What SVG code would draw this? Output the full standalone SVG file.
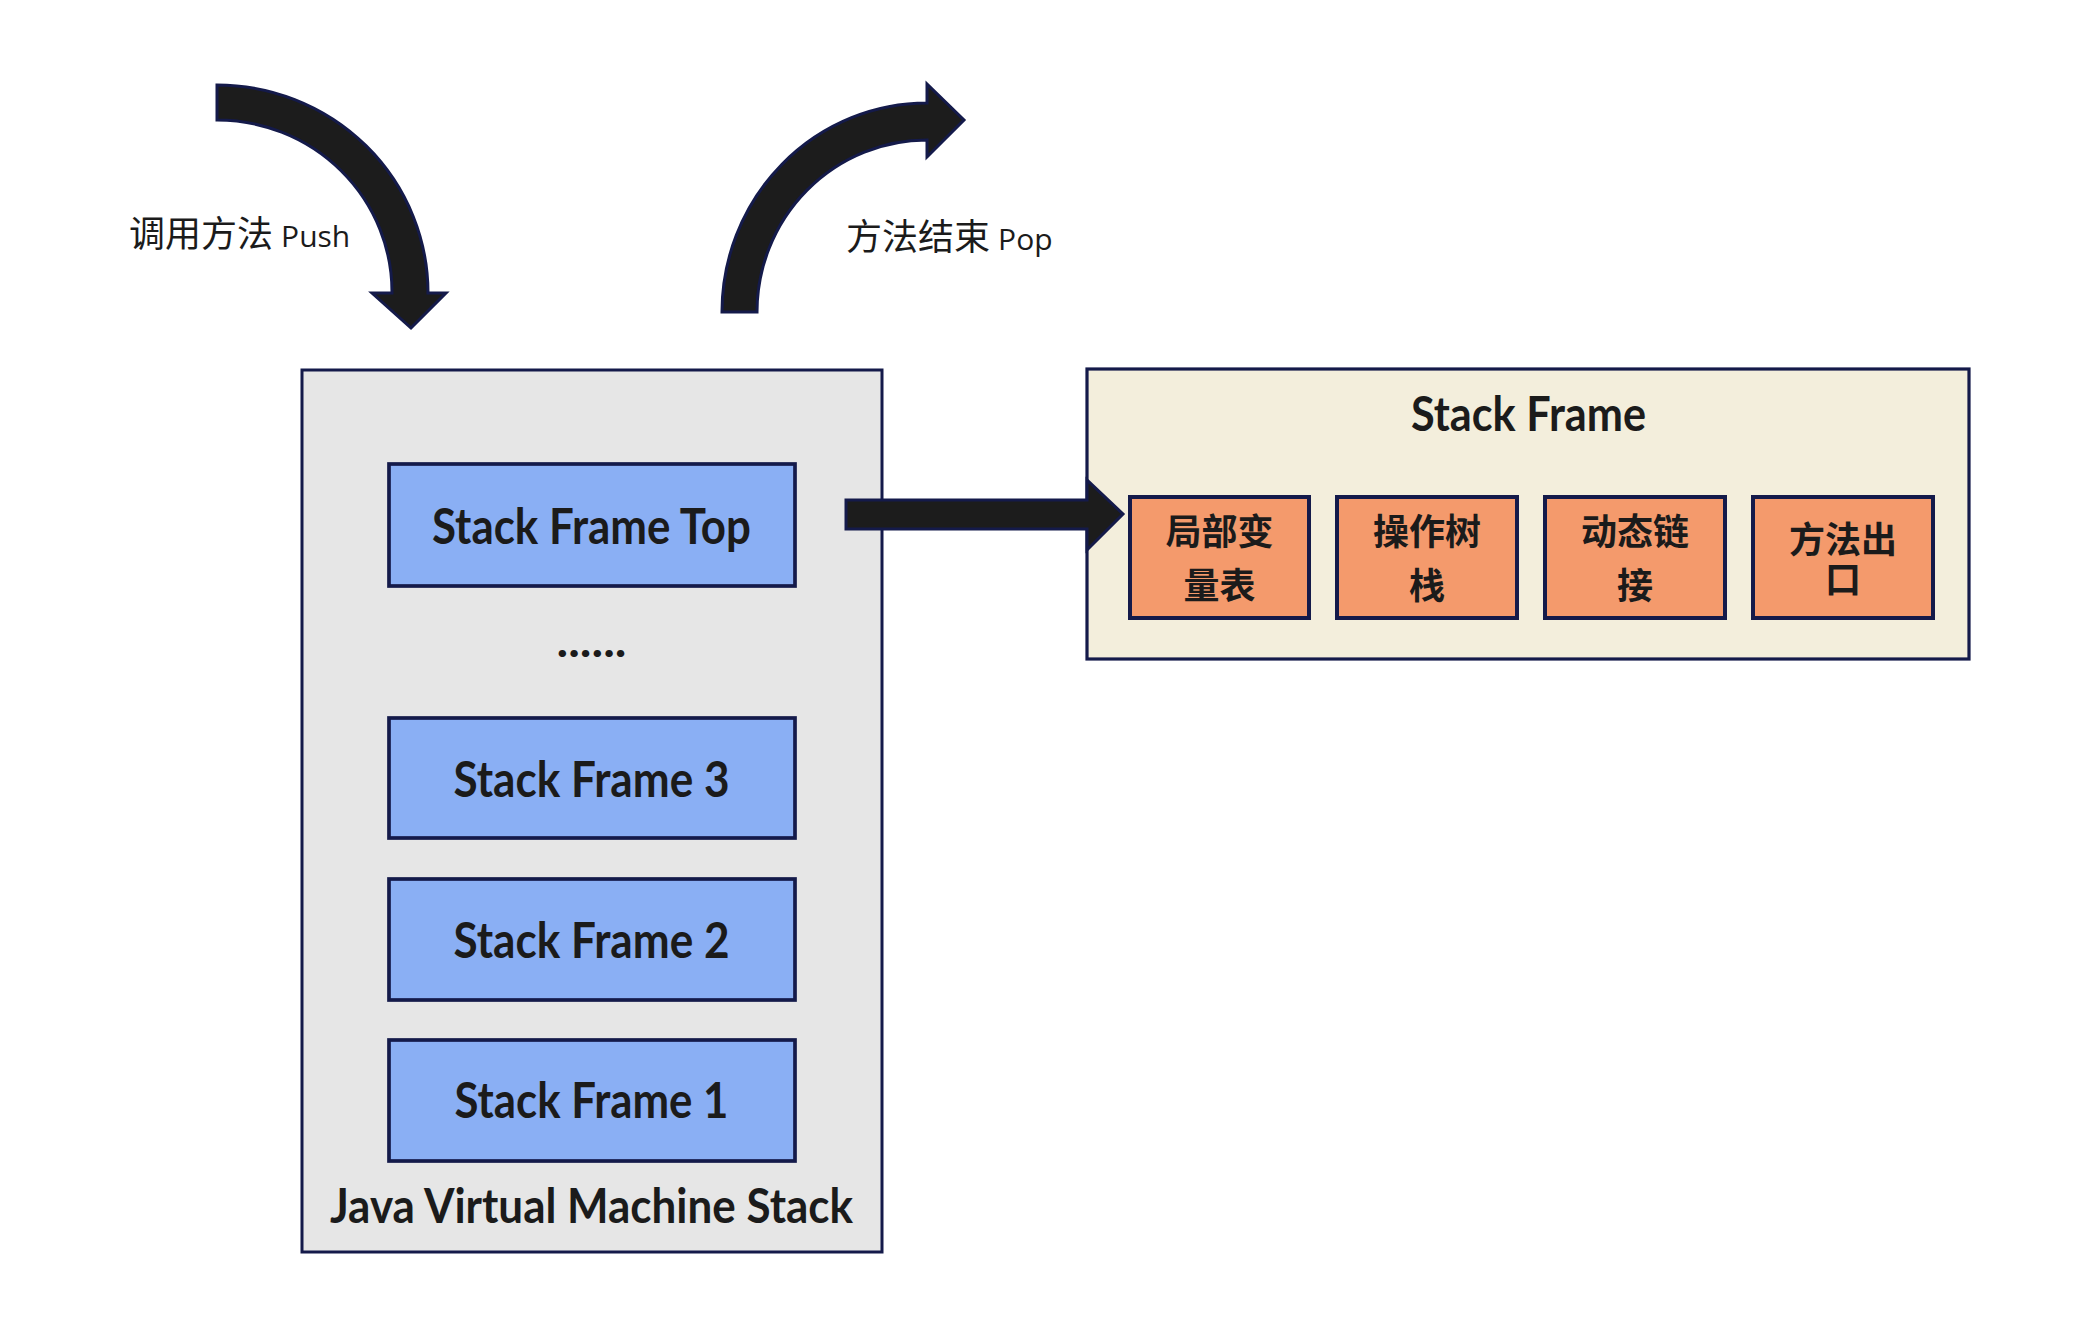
<svg xmlns="http://www.w3.org/2000/svg" width="2100" height="1338" viewBox="0 0 2100 1338">
<style>
.box{stroke:#141a4a;stroke-width:3.7}
.jvm{fill:#e6e6e6;stroke:#141a4a;stroke-width:3}
.frame{fill:#8aaff4}
.cream{fill:#f3eedc;stroke:#141a4a;stroke-width:3.2}
.orange{fill:#f49a6c;stroke:#141a4a;stroke-width:4}
.en{font-family:Lato,"Noto Sans",sans-serif;font-weight:700;fill:#1b1b1b;text-anchor:middle}
.cn{font-family:"Noto Sans CJK SC","Noto Sans",sans-serif;font-weight:700;font-size:36px;fill:#1b1b1b;text-anchor:middle}
.lbl{font-family:"Noto Sans CJK SC","Noto Sans",sans-serif;font-weight:400;font-size:36px;fill:#1b1b1b}
.arrow{fill:#1c1c1c;stroke:#141a4a;stroke-width:3;stroke-linejoin:miter}
</style>
<rect width="2100" height="1338" fill="#ffffff"/>
<g id="label-push"><text class="lbl" x="129" y="247">调用方法 <tspan font-family="'Open Sans','Noto Sans',sans-serif" font-size="30">Push</tspan></text></g>
<g id="label-pop"><text class="lbl" x="846" y="250">方法结束 <tspan font-family="'Open Sans','Noto Sans',sans-serif" font-size="30">Pop</tspan></text></g>
<g id="jvm-stack">
<rect class="jvm" x="302" y="370" width="580" height="882"/>
<text class="en" x="591.5" y="1223" font-size="47" textLength="523" lengthAdjust="spacingAndGlyphs">Java Virtual Machine Stack</text>
</g>
<g id="frame-top">
<rect class="box frame" x="389" y="464" width="406" height="122"/>
<text class="en" x="591.5" y="544" font-size="50" textLength="319" lengthAdjust="spacingAndGlyphs">Stack Frame Top</text>
</g>
<g id="dots"><text class="en" x="591.5" y="657" font-size="46" textLength="70" lengthAdjust="spacingAndGlyphs">......</text></g>
<g id="frame-3">
<rect class="box frame" x="389" y="718" width="406" height="120"/>
<text class="en" x="591.5" y="797" font-size="50" textLength="276" lengthAdjust="spacingAndGlyphs">Stack Frame 3</text>
</g>
<g id="frame-2">
<rect class="box frame" x="389" y="879" width="406" height="121"/>
<text class="en" x="591.5" y="958" font-size="50" textLength="276" lengthAdjust="spacingAndGlyphs">Stack Frame 2</text>
</g>
<g id="frame-1">
<rect class="box frame" x="389" y="1040" width="406" height="121"/>
<text class="en" x="591.5" y="1118" font-size="50" textLength="274" lengthAdjust="spacingAndGlyphs">Stack Frame 1</text>
</g>
<g id="stack-frame">
<rect class="cream" x="1087" y="369" width="882" height="290"/>
<text class="en" x="1528.5" y="431" font-size="47" textLength="235" lengthAdjust="spacingAndGlyphs">Stack Frame</text>
</g>
<g id="local-vars">
<rect class="orange" x="1130" y="497" width="179" height="121"/>
<text class="cn" x="1219.5" y="545">局部变<tspan x="1219.5" dy="54">量表</tspan></text>
</g>
<g id="operand-stack">
<rect class="orange" x="1337" y="497" width="180" height="121"/>
<text class="cn" x="1427" y="545">操作树<tspan x="1427" dy="54">栈</tspan></text>
</g>
<g id="dynamic-link">
<rect class="orange" x="1545" y="497" width="180" height="121"/>
<text class="cn" x="1635" y="545">动态链<tspan x="1635" dy="54">接</tspan></text>
</g>
<g id="return-addr">
<rect class="orange" x="1753" y="497" width="180" height="121"/>
<text class="cn" x="1843" y="553">方法出<tspan x="1843" dy="40">口</tspan></text>
</g>
<g id="connectors">
<path class="arrow" d="M217,85 A211,208 0 0 1 428,293 L446,293 L411,328 L372,293 L392,293 A175,172 0 0 0 217,120 Z"/>
<path class="arrow" d="M722,312 A205,209 0 0 1 927,103 L927,84 L964,120 L927,157 L927,140 A170,172 0 0 0 757,312 Z"/>
<path class="arrow" d="M846,500 L1087,500 L1087,480 L1123,514 L1087,550 L1087,529 L846,529 Z"/>
</g>
</svg>
